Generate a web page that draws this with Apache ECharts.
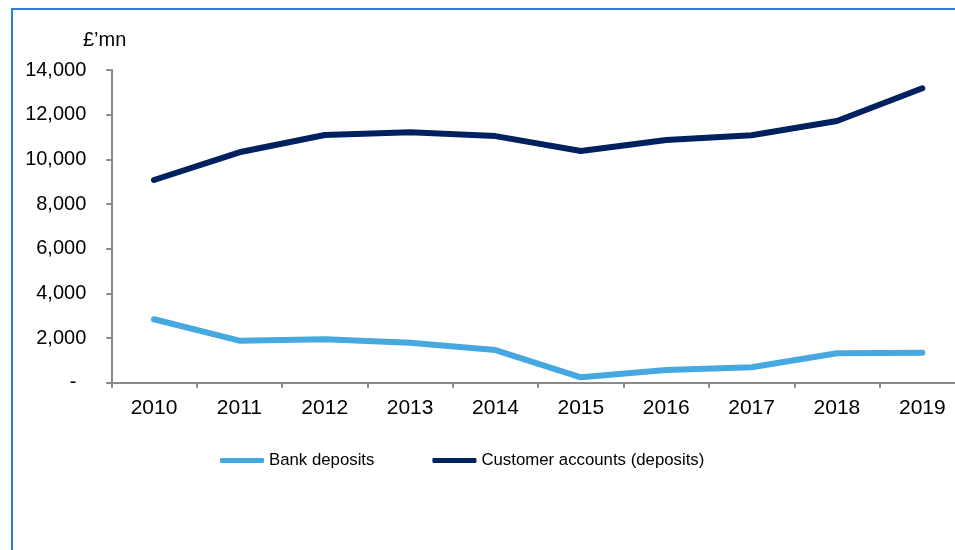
<!DOCTYPE html>
<html>
<head>
<meta charset="utf-8">
<script src="https://cdn.jsdelivr.net/npm/echarts@6/dist/echarts.min.js"></script>
<style>
html,body{margin:0;padding:0;background:#fff;overflow:hidden;width:955px;height:550px;}
#c{width:980px;height:550px;}
</style>
</head>
<body>
<div id="c"></div>
<script>
const years = ['2010','2011','2012','2013','2014','2015','2016','2017','2018','2019'];
const bankDeposits = [2840, 1880, 1940, 1790, 1460, 240, 570, 690, 1315, 1345];
const customerAccounts = [9075, 10315, 11090, 11210, 11040, 10375, 10865, 11075, 11715, 13180];
const yTicks = [0, 2000, 4000, 6000, 8000, 10000, 12000, 14000];

const chart = echarts.init(document.getElementById('c'), null, {renderer: 'canvas'});
const FONT = '"Liberation Sans", Arial, sans-serif';
chart.setOption({
  animation: false,
  backgroundColor: '#ffffff',
  textStyle: {fontFamily: FONT},
  graphic: [
    {type: 'rect', shape: {x: 12, y: 9, width: 1000, height: 620}, style: {fill: 'none', stroke: '#2b7fd0', lineWidth: 2}, z: 100},
    {type: 'text', left: 83, top: 30, style: {text: '£’mn', font: '20px "Liberation Sans", Arial, sans-serif', fill: '#000'}}
  ],
  grid: {left: 111.3, right: 15, top: 70, bottom: 167.3, containLabel: false},
  legend: {
    left: 215, top: 447,
    itemWidth: 44, itemHeight: 5, itemGap: 58,
    icon: 'roundRect',
    textStyle: {fontSize: 16.8, color: '#000', fontFamily: FONT},
    data: ['Bank deposits', 'Customer accounts (deposits)']
  },
  xAxis: {
    type: 'category', data: years, boundaryGap: true,
    axisLine: {lineStyle: {color: '#8a8a8a', width: 2}},
    axisTick: {show: true, interval: 0, length: 5, lineStyle: {color: '#8a8a8a', width: 2}},
    axisLabel: {fontSize: 21, color: '#000', margin: 15, interval: 0, fontFamily: FONT}
  },
  yAxis: {
    type: 'value', min: 0, max: 14000, interval: 2000,
    splitLine: {show: false},
    axisLine: {show: true, lineStyle: {color: '#8a8a8a', width: 2}},
    axisTick: {show: true, length: 5, lineStyle: {color: '#8a8a8a', width: 2}},
    axisLabel: {
      fontSize: 20, color: '#000', margin: 25, fontFamily: FONT,
      formatter: function (v) {
        if (v === 0) return '{d|-}';
        return v.toLocaleString('en-GB');
      },
      rich: {d: {fontSize: 20, color: '#000', padding: [0, 10, 0, 0], fontFamily: FONT}}
    }
  },
  series: [
    {
      name: 'Bank deposits', type: 'line', data: bankDeposits,
      showSymbol: false, symbol: 'none',
      itemStyle: {color: '#45a8e0'},
      lineStyle: {color: '#45a8e0', width: 6, cap: 'round', join: 'round'}
    },
    {
      name: 'Customer accounts (deposits)', type: 'line', data: customerAccounts,
      showSymbol: false, symbol: 'none',
      itemStyle: {color: '#00215f'},
      lineStyle: {color: '#00215f', width: 6, cap: 'round', join: 'round'}
    }
  ]
});
</script>
</body>
</html>
